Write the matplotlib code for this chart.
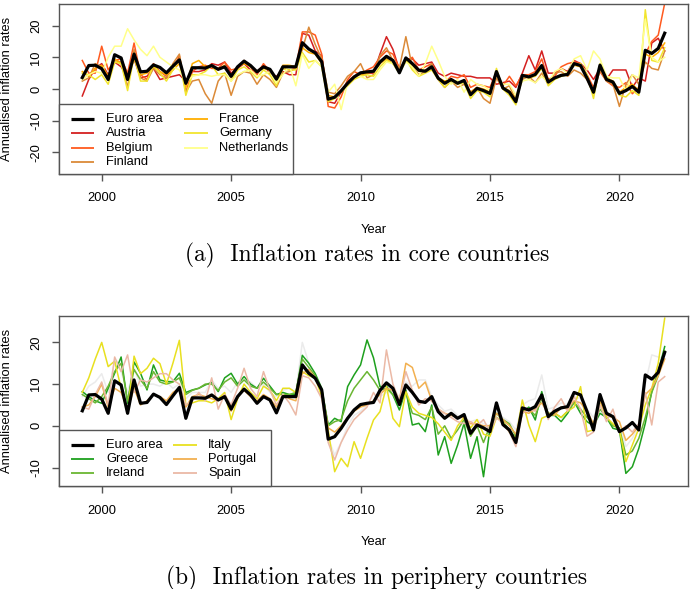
import numpy as np
import matplotlib
matplotlib.use("Agg")
import matplotlib.pyplot as plt
from matplotlib.patches import Rectangle
from matplotlib.lines import Line2D

# ---------------- data (quarterly, 1999Q2 .. 2021Q4) ----------------
t_start, t_end = 1999.25, 2021.75
quarters = np.arange(t_start, t_end + 0.01, 0.25)

euro_area = [3.6, 7.4, 7.5,
             6.4, 3.0, 10.8, 9.8, 3.0, 11.0, 5.4, 5.6, 7.6, 6.8, 5.1, 7.2,
             9.2, 1.8, 6.7, 6.7, 6.6, 7.4, 6.2, 7.0, 4.0, 7.0, 8.8, 7.4,
             5.4, 7.0, 6.2, 3.1, 7.0, 7.0, 7.0, 14.6, 12.6, 11.4, 8.6, -3.2,
             -2.6, -0.6, 1.8, 3.8, 5.1, 5.4, 5.6, 8.5, 10.3, 9.0, 5.1, 9.8,
             8.0, 5.9, 5.6, 7.0, 3.4, 1.8, 3.0, 1.8, 2.7, -1.8, 0.2, -0.5,
             -1.4, 5.5, 0.3, -1.0, -4.0, 4.3, 3.8, 4.6, 7.4, 2.2, 3.5, 4.3,
             4.6, 8.0, 7.4, 3.4, -1.0, 7.5, 3.0, 2.2, -1.4, -0.5, 0.8, -1.0,
             12.2, 11.2, 12.8, 17.6]

austria = [-2.2, 3.0, 6.5,
           8.0, 4.5, 8.5, 7.0, 4.0, 9.5, 3.5, 4.0, 6.5, 3.0, 3.5, 4.0,
           4.5, 2.5, 5.5, 5.5, 6.0, 8.0, 7.5, 8.5, 5.0, 6.5, 8.0, 6.0,
           5.5, 7.5, 5.0, 4.0, 5.5, 4.5, 4.5, 17.5, 17.0, 12.0, 10.5, -4.0,
           -4.5, -1.0, 2.5, 4.0, 4.5, 5.0, 5.0, 11.0, 16.5, 12.5, 6.0, 9.5,
           9.5, 7.5, 8.0, 8.5, 5.0, 4.0, 5.0, 4.5, 4.0, 4.0, 3.5, 3.5,
           3.5, 1.5, 2.0, 2.5, 0.5, 5.0, 10.5, 6.0, 12.0, 5.0, 5.0, 6.5,
           5.5, 9.0, 8.0, 6.0, 3.0, 6.5, 3.0, 6.0, 6.0, 6.0, 0.5, 3.5,
           2.5, 14.5, 16.0, 12.0]

belgium = [9.0, 5.0, 5.0,
           13.5, 6.0, 9.0, 9.5, 5.0, 14.5, 4.5, 3.0, 8.0, 5.5, 4.0, 6.0,
           10.5, -1.0, 5.5, 7.0, 7.5, 6.5, 6.5, 8.5, 6.0, 6.5, 9.0, 7.0,
           4.5, 8.0, 5.5, 3.5, 6.5, 6.0, 6.5, 18.0, 18.0, 17.0, 11.0, -5.5,
           -6.0, -2.5, 3.0, 5.5, 4.5, 6.0, 7.0, 10.0, 12.0, 11.0, 6.5, 8.5,
           10.0, 6.0, 7.0, 8.0, 3.0, 2.0, 4.0, 3.5, 4.5, 0.5, 1.5, 1.0,
           0.5, 5.5, 1.0, 4.0, 1.0, 4.5, 4.5, 5.5, 9.5, 3.0, 4.0, 7.0,
           8.0, 8.5, 8.0, 4.5, 0.5, 5.5, 2.5, 1.0, 0.5, 2.0, -1.5, 0.5,
           11.0, 15.0, 17.0, 27.0]

finland = [2.5, 3.5, 8.0,
           7.0, 3.0, 9.0, 8.5, 0.5, 12.5, 3.5, 2.5, 6.5, 4.5, 3.5, 8.0,
           11.0, -1.0, 2.5, 3.0, -1.5, -4.5, 2.5, 5.0, -2.0, 4.0, 5.5, 5.0,
           1.5, 4.5, 3.0, 0.5, 5.0, 5.5, 6.5, 12.5, 19.5, 14.0, 9.5, -1.0,
           -1.5, 1.0, 4.0, 5.5, 8.0, 3.5, 4.5, 10.5, 13.0, 9.0, 6.5, 16.5,
           7.0, 4.5, 5.5, 8.0, 3.0, 0.5, 2.5, 0.5, 1.5, -1.0, 0.5, -3.0,
           -4.5, 3.5, 0.0, 1.0, -3.5, 3.0, 4.0, 2.0, 5.0, 1.5, 5.0, 5.5,
           4.0, 6.0, 5.0, 3.0, -1.5, 6.0, 2.5, 1.5, -5.5, 1.5, 4.5, 1.5,
           8.5, 6.5, 6.0, 12.0]

france = [5.5, 4.0, 6.5,
          7.5, 4.0, 9.5, 8.0, 3.0, 9.5, 4.5, 5.0, 7.0, 5.5, 4.5, 6.0,
          8.0, 0.5, 8.0, 9.0, 7.0, 7.5, 6.0, 7.5, 3.5, 7.0, 8.0, 7.0,
          5.5, 6.5, 6.0, 2.5, 7.5, 7.5, 7.0, 13.0, 11.5, 11.0, 8.0, -2.0,
          -2.5, -0.5, 1.5, 3.5, 4.5, 5.0, 5.5, 8.0, 9.5, 8.0, 5.5, 9.0,
          7.5, 5.5, 6.0, 6.5, 3.5, 2.5, 3.0, 2.0, 2.5, -1.0, 0.5, 0.0,
          -1.0, 4.5, 0.5, -0.5, -3.0, 4.0, 3.5, 4.5, 7.0, 2.5, 3.5, 4.5,
          5.0, 7.5, 7.0, 3.5, -0.5, 7.0, 3.5, 2.5, -1.0, 0.5, 1.5, -0.5,
          11.0, 10.0, 11.5, 14.5]

germany = [5.0, 4.5, 3.0,
           4.5, 1.5, 8.5, 8.0, -0.5, 10.5, 2.5, 2.5, 7.5, 5.0, 2.5, 6.0,
           9.5, -2.0, 4.5, 4.5, 5.5, 7.5, 4.5, 5.0, 2.5, 6.0, 7.0, 5.5,
           3.5, 6.0, 4.5, 1.0, 6.5, 6.0, 6.0, 11.5, 8.5, 9.0, 7.0, -4.0,
           -3.0, -1.0, 1.0, 3.0, 4.0, 4.5, 4.0, 7.0, 9.0, 8.0, 5.0, 9.5,
           6.0, 4.0, 5.0, 6.0, 3.0, 0.5, 2.5, 1.5, 2.0, -3.0, -0.5, -1.0,
           -2.5, 6.5, 0.0, -2.0, -5.0, 4.5, 3.5, 4.0, 6.5, 1.0, 3.0, 4.0,
           4.5, 7.5, 8.0, 4.5, -3.0, 8.0, 4.0, 2.0, -2.0, -2.5, -0.5, -2.0,
           25.0, 9.0, 8.5, 13.0]

netherlands = [3.0, 4.5, 5.5,
               5.0, 10.0, 13.5, 13.5, 19.0, 15.5, 12.5, 10.5, 13.5, 10.0, 8.5, 7.0,
               6.0, 2.0, 4.0, 4.5, 4.5, 4.0, 4.5, 4.5, 2.5, 4.5, 5.5, 6.0,
               4.0, 4.5, 5.5, 2.0, 4.5, 7.5, 1.0, 11.0, 6.5, 9.0, 7.0, -1.0,
               1.5, -6.5, 2.0, 4.0, 4.0, 3.0, 3.0, 6.0, 8.5, 8.0, 5.0, 8.5,
               7.0, 4.0, 8.0, 13.5, 9.0, 4.0, 1.5, 3.0, -1.0, 3.0, 1.5, 1.0,
               -0.5, 4.5, 1.5, 1.5, -2.0, 2.5, 3.0, 2.0, 4.0, 2.0, 5.5, 6.5,
               5.0, 9.5, 10.5, 6.0, 12.0, 9.5, 4.0, 3.5, 3.5, -0.5, 4.5, 3.5,
               22.0, 10.0, 8.5, 10.0]

greece = [8.2, 7.0, 6.0,
          5.4, 9.0, 12.6, 16.5, 5.4, 15.3, 12.6, 8.6, 14.6, 11.0, 10.6, 10.6,
          12.6, 8.0, 8.6, 9.0, 9.8, 10.4, 8.2, 11.5, 12.6, 10.0, 11.8, 10.0,
          9.0, 11.4, 9.5, 7.5, 8.0, 7.5, 7.6, 16.9, 15.0, 12.5, 9.0, 0.2,
          1.8, 1.0, 9.4, 12.2, 14.6, 20.6, 16.3, 9.4, 9.5, 7.4, 3.8, 8.6,
          0.2, 0.6, -1.4, 5.0, -7.0, -2.6, -9.0, -4.6, 0.6, -7.8, -2.6, -12.2,
          -0.6, 2.0, 1.0, -1.0, -3.0, 3.0, 4.5, 1.4, 8.2, 2.5, 2.5, 1.0,
          3.0, 5.8, 3.0, 1.0, 0.0, 3.0, 2.0, -0.6, -1.0, -11.4, -9.8, -5.4,
          0.6, 8.2, 13.0, 19.0]

ireland = [7.5, 6.5, 5.5,
           7.0, 9.5, 13.0, 15.0, 6.0, 13.5, 11.0, 9.0, 13.0, 10.5, 10.0, 10.5,
           11.5, 7.5, 8.5, 9.0, 10.0, 10.0, 8.5, 10.5, 11.5, 9.5, 11.0, 9.5,
           9.0, 10.5, 9.0, 7.5, 7.5, 7.5, 8.0, 16.0, 14.0, 12.0, 8.5, 0.0,
           1.0, 1.5, 6.0, 9.0, 11.0, 13.0, 11.0, 8.5, 9.0, 7.5, 5.0, 8.0,
           3.0, 2.5, 1.5, 4.5, -2.0, 0.0, -3.0, -1.0, 1.5, -2.5, 0.0, -4.0,
           0.0, 3.0, 1.5, 0.5, -2.5, 3.5, 4.0, 2.5, 6.5, 3.0, 3.0, 2.0,
           3.5, 5.5, 4.0, 2.0, 0.5, 4.0, 2.0, 0.0, -0.5, -7.0, -6.0, -3.0,
           2.0, 8.0, 12.0, 18.0]

italy = [8.0, 11.5, 16.0,
         20.0, 14.2, 15.5, 9.0, 3.0, 16.7, 12.5, 13.8, 16.2, 14.9, 10.0, 15.0,
         20.5, 5.0, 5.5, 6.0, 6.0, 5.5, 6.5, 8.0, 1.5, 6.5, 10.0, 8.0,
         6.5, 9.5, 8.5, 6.0, 9.0, 9.0, 8.0, 13.0, 12.0, 11.5, 7.0, -1.0,
         -11.0, -7.8, -9.8, -3.8, -7.8, -3.0, 1.4, 3.4, 9.4, 1.8, -0.2, 8.2,
         4.5, 3.0, 2.5, 2.0, 0.5, -1.5, -3.5, 0.0, 2.0, -0.5, 1.5, -2.0,
         -2.5, 2.0, 1.0, -1.5, -3.0, 6.2, 0.2, -3.8, 1.8, 2.5, 3.0, 2.0,
         3.5, 4.5, 9.4, -1.4, -1.0, 6.0, 2.0, 0.5, -1.0, -8.6, -4.6, -0.6,
         5.0, 9.0, 15.0, 25.8]

portugal = [4.5, 5.0, 7.0,
            10.0, 4.5, 9.0, 8.0, 4.0, 9.0, 5.0, 6.0, 7.5, 7.0, 6.0, 8.0,
            9.0, 4.5, 7.0, 7.5, 7.0, 6.5, 6.0, 7.5, 3.5, 7.0, 8.5, 7.0,
            6.0, 7.5, 6.5, 4.5, 7.5, 6.5, 6.0, 12.5, 13.5, 11.5, 8.5, -0.5,
            -1.5, 0.0, 2.0, 3.5, 4.5, 5.0, 6.0, 7.5, 9.0, 8.5, 6.0, 15.0,
            14.0, 9.0, 10.5, 6.0, 4.0, 3.0, 2.5, 2.0, 2.0, 0.5, 0.5, 0.0,
            0.0, 3.0, 1.5, 0.0, -2.0, 3.5, 3.0, 4.0, 5.5, 3.0, 2.5, 4.5,
            4.0, 6.0, 5.5, 3.5, 0.5, 6.0, 2.5, 2.0, 1.0, -3.5, -2.0, 0.0,
            7.5, 9.0, 12.0, 16.0]

spain = [4.5, 4.0, 7.5,
         10.5, 5.0, 16.5, 13.0, 17.0, 8.0, 11.0, 10.5, 11.5, 12.5, 12.5, 11.0,
         10.0, 5.0, 6.0, 8.0, 6.0, 11.5, 4.0, 7.5, 5.0, 9.0, 13.8, 9.0,
         7.0, 13.0, 8.5, 5.0, 7.5, 5.5, 2.6, 12.0, 11.5, 9.5, 6.5, -4.0,
         -8.2, -4.0, -1.0, 1.5, 3.0, 4.5, 8.0, 5.5, 18.2, 10.0, 6.0, 13.0,
         8.5, 5.0, 6.5, 6.0, 4.0, 3.0, 2.0, 1.0, 0.5, 1.0, 0.0, 1.5,
         -1.5, 2.0, 0.5, -1.5, -5.0, 3.0, 4.0, 3.5, 7.0, 1.5, 4.5, 6.5,
         3.5, 7.0, 4.0, -2.5, -1.5, 5.0, 1.0, 4.0, -1.5, 0.0, -1.5, 0.5,
         8.0, 0.2, 10.5, 11.8]

other_periphery = [7.0, 9.5, 10.5,
                   12.5, 8.0, 15.5, 13.0, 8.0, 14.0, 9.5, 10.0, 10.0, 9.5, 10.5, 9.0,
                   10.0, 6.5, 8.0, 8.0, 8.0, 11.0, 9.0, 9.5, 8.0, 10.5, 11.0, 10.5,
                   9.0, 10.0, 8.0, 7.0, 8.5, 9.0, 8.0, 20.0, 15.0, 12.0, 9.0, -3.0,
                   -7.0, -4.0, 0.0, 2.5, 3.5, 5.0, 6.0, 7.0, 8.0, 8.5, 7.0, 10.5,
                   9.5, 11.0, 11.0, 7.0, 5.0, 3.5, 4.0, 2.5, 2.0, 1.0, 1.5, 0.5,
                   0.0, 3.0, 2.0, 1.0, -1.0, 5.0, 6.0, 6.5, 12.2, 4.0, 4.5, 5.5,
                   5.0, 7.0, 6.5, 4.0, 2.0, 6.0, 3.0, 2.0, 1.0, -5.0, -3.0, 0.0,
                   10.0, 17.0, 16.5, 16.0]

core_names = ["Austria", "Belgium", "Finland", "France", "Germany", "Netherlands"]
core_values = [austria, belgium, finland, france, germany, netherlands]
core_colors = ["#D42020", "#FF5A1F", "#DB8A38", "#FFAE00", "#F2E52E", "#FFFF8A"]

peri_names = ["Greece", "Ireland", "Italy", "Portugal", "Spain"]
peri_values = [greece, ireland, italy, portugal, spain]
peri_colors = ["#1EA01E", "#6AB632", "#E8E020", "#F2B050", "#EBB9A6"]
other_color = "#EBEBEB"

x_ticks = [2000, 2005, 2010, 2015, 2020]
y_ticks_core = [-20, -10, 0, 10, 20]
y_ticks_peri = [-10, 0, 10, 20]

# ---------------- figure ----------------
W, H = 690, 589
fig = plt.figure(figsize=(W / 100, H / 100), dpi=100)
plt.rcParams["font.family"] = ["Liberation Sans", "DejaVu Sans"]
FS = 9.3
CAP_FS = 16.8
EDGE = "#555555"


def fx(px):
    return px / W


def fy(py):
    return 1 - py / H


def make_axes(top, bottom):
    ax = fig.add_axes([fx(59), fy(bottom), fx(688) - fx(59), fy(top) - fy(bottom)])
    for s in ax.spines.values():
        s.set_color(EDGE)
        s.set_linewidth(1.0)
    ax.set_xlim(1998.35, 2022.65)
    ax.set_xticks(x_ticks)
    ax.set_xticklabels([str(v) for v in x_ticks], fontsize=FS)
    ax.tick_params(axis="both", direction="out", length=5, width=1.0, color=EDGE)
    ax.tick_params(axis="x", pad=8.3)
    ax.tick_params(axis="y", pad=7.0)
    return ax


def set_yticks(ax, ticks):
    ax.set_yticks(ticks)
    ax.set_yticklabels([str(v) for v in ticks], fontsize=FS, rotation=90, va="center")


def draw_legend(box, entries):
    # box: (x0, y0, x1, y1) in pixels; entries: (label, color, lw, (hx0, hx1, tx), row_y)
    x0, y0, x1, y1 = box
    fig.add_artist(Rectangle((fx(x0), fy(y1)), fx(x1) - fx(x0), fy(y0) - fy(y1),
                             transform=fig.transFigure, facecolor="white",
                             edgecolor=EDGE, linewidth=1.0, zorder=10))
    for label, color, lw, (hx0, hx1, tx), ry in entries:
        fig.add_artist(Line2D([fx(hx0), fx(hx1)], [fy(ry), fy(ry)],
                              transform=fig.transFigure, color=color, lw=lw,
                              solid_capstyle="butt", zorder=11))
        fig.text(fx(tx), fy(ry), label, fontsize=FS, va="center", ha="left", zorder=12)


# ---- panel (a) ----
ax1 = make_axes(4, 174)
ax1.set_ylim(-26.8, 26.8)
set_yticks(ax1, y_ticks_core)
for vals, col in zip(core_values, core_colors):
    ax1.plot(quarters, vals, color=col, lw=1.1, zorder=2)
ax1.plot(quarters, euro_area, color="black", lw=2.3, zorder=3)

col1 = (71, 94, 106)
col2a = (184, 208, 219)
rows_a = [119, 133.3, 147.6, 162]
ent_a = [("Euro area", "black", 2.3, col1, rows_a[0])]
for i, (n, c) in enumerate(zip(core_names, core_colors)):
    if i < 3:
        ent_a.append((n, c, 1.3, col1, rows_a[i + 1]))
    else:
        ent_a.append((n, c, 1.3, col2a, rows_a[i - 3]))
draw_legend((59, 104, 293, 174), ent_a)

fig.text(fx(6.7), fy(89), "Annualised inflation rates", rotation=90,
         fontsize=FS, ha="center", va="center")
fig.text(fx(373.5), fy(230), "Year", fontsize=FS, ha="center", va="center")
fig.text(fx(367), fy(255), "(a)  Inflation rates in core countries",
         fontsize=CAP_FS, family="cmr10", ha="center", va="center")

# ---- panel (b) ----
ax2 = make_axes(315.7, 486.3)
ax2.set_ylim(-14.5, 26.4)
set_yticks(ax2, y_ticks_peri)
ax2.plot(quarters, other_periphery, color=other_color, lw=1.1, zorder=1)
for vals, col in zip(peri_values, peri_colors):
    ax2.plot(quarters, vals, color=col, lw=1.1, zorder=2)
ax2.plot(quarters, euro_area, color="black", lw=2.3, zorder=3)

col2b = (173, 197, 208)
rows_b = [445, 459, 473]
ent_b = [("Euro area", "black", 2.3, col1, rows_b[0])]
for i, (n, c) in enumerate(zip(peri_names, peri_colors)):
    if i < 2:
        ent_b.append((n, c, 1.3, col1, rows_b[i + 1]))
    else:
        ent_b.append((n, c, 1.3, col2b, rows_b[i - 2]))
draw_legend((59, 430, 271, 486.3), ent_b)

fig.text(fx(6.7), fy(401), "Annualised inflation rates", rotation=90,
         fontsize=FS, ha="center", va="center")
fig.text(fx(373.5), fy(541.7), "Year", fontsize=FS, ha="center", va="center")
fig.text(fx(377), fy(578), "(b)  Inflation rates in periphery countries",
         fontsize=CAP_FS, family="cmr10", ha="center", va="center")

fig.savefig("out.png", dpi=100)
